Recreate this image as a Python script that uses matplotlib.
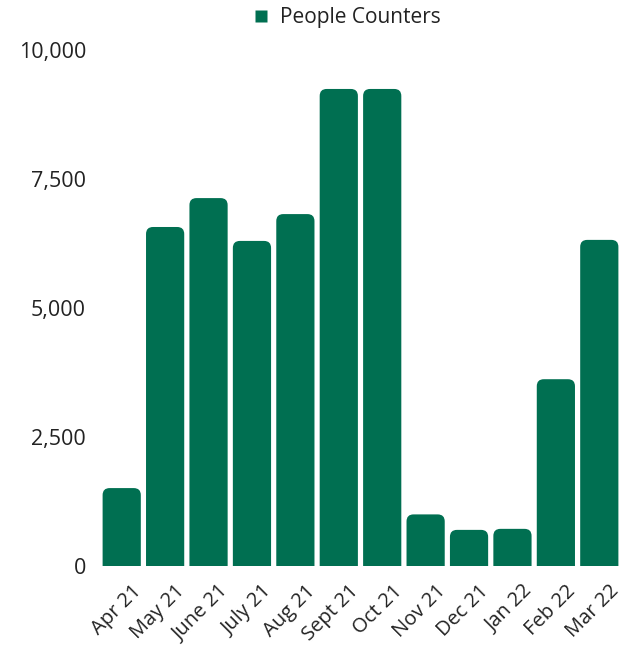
import matplotlib
matplotlib.use("Agg")
import matplotlib.pyplot as plt
import matplotlib.transforms as mtransforms
from matplotlib.patches import FancyBboxPatch
from matplotlib.ticker import FuncFormatter
from matplotlib.lines import Line2D

categories = ["Apr 21", "May 21", "June 21", "July 21", "Aug 21", "Sept 21",
              "Oct 21", "Nov 21", "Dec 21", "Jan 22", "Feb 22", "Mar 22"]
people_counters = [1510, 6570, 7130, 6300, 6820, 9245, 9245, 1000, 700, 720, 3620, 6320]
yticks = [0, 2500, 5000, 7500, 10000]
series_name = "People Counters"

plt.rcParams['font.family'] = ['Open Sans', 'DejaVu Sans']
color = "#006F51"
text_color = "#222222"

W, H = 626, 645
fig = plt.figure(figsize=(W / 100, H / 100), dpi=100)
ax_left, ax_right, ax_top, ax_bottom = 100, 621, 50, 566
ax = fig.add_axes([ax_left / W, 1 - ax_bottom / H, (ax_right - ax_left) / W, (ax_bottom - ax_top) / H])

x = list(range(len(categories)))
bars = ax.bar(x, people_counters, width=0.88, color=color, label=series_name)
ax.set_xlim(-0.5, len(categories) - 0.5)
ax.set_ylim(0, 10000)

# rounded top corners
px_per_x = (ax_right - ax_left) / len(categories)
px_per_y = (ax_bottom - ax_top) / 10000
radius_px = 7
rx = radius_px / px_per_x
aspect = px_per_x / px_per_y
for b in bars:
    bx, by, bw, bh = b.get_x(), b.get_y(), b.get_width(), b.get_height()
    b.set_visible(False)
    ry = rx * aspect
    p = FancyBboxPatch((bx, by - ry * 2), bw, bh + ry * 2,
                       boxstyle=f"round,pad=0,rounding_size={rx}",
                       mutation_aspect=aspect, facecolor=color, edgecolor="none")
    ax.add_patch(p)

ax.set_yticks(yticks)
ax.yaxis.set_major_formatter(FuncFormatter(lambda v, p: f"{int(v):,}"))
ax.set_xticks(x)
ax.set_xticklabels(categories, rotation=45, ha='right', rotation_mode='anchor')
ax.tick_params(axis='y', length=0, labelsize=15.5, colors=text_color, pad=10)
ax.tick_params(axis='x', length=0, labelsize=14.5, colors=text_color, pad=11)
offset = mtransforms.ScaledTranslation(10 / 100, 0, fig.dpi_scale_trans)
for lbl in ax.get_xticklabels():
    lbl.set_transform(lbl.get_transform() + offset)
for s in ax.spines.values():
    s.set_visible(False)

handle = Line2D([], [], marker='s', color='none', markerfacecolor=color, markeredgecolor='none', markersize=9)
fig.legend([handle], [series_name], loc='center', bbox_to_anchor=(347 / W, 1 - 18 / H),
           frameon=False, fontsize=15, handlelength=0.8, handletextpad=0.5, labelcolor=text_color)

fig.savefig("out.png", dpi=100)
